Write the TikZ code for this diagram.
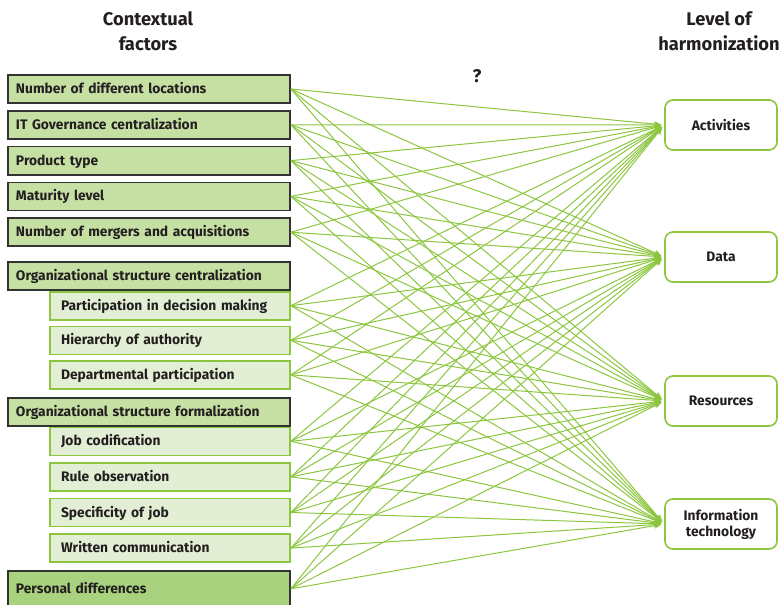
\documentclass[tikz,border=0pt]{standalone}
\usepackage{fontspec}
\setmainfont{Fira Sans}
\usetikzlibrary{positioning,arrows.meta}
\definecolor{boxgreen}{HTML}{C6E0A4}
\definecolor{subgreen}{HTML}{E2EFD4}
\definecolor{persgreen}{HTML}{A8D27D}
\definecolor{linegreen}{HTML}{8CC63F}
\definecolor{darkborder}{HTML}{333333}
\definecolor{txt}{HTML}{231F20}

\begin{document}
\begin{tikzpicture}[x=1pt,y=-1pt,
  every node/.style={font=\bfseries\fontsize{13.8}{16}\selectfont, text=txt},
  factor/.style={draw=darkborder, line width=1.8pt, fill=boxgreen, minimum height=28pt,
    inner xsep=8pt, inner ysep=0pt, text height=11pt, text depth=2pt, text width=266pt, align=left},
  subfactor/.style={draw=linegreen, line width=1.6pt, fill=subgreen, minimum height=28pt,
    inner xsep=11pt, inner ysep=0pt, text height=11pt, text depth=2pt, text width=218pt, align=left},
  target/.style={draw=linegreen, line width=1.6pt, fill=white, rounded corners=8pt,
    minimum width=112pt, minimum height=50pt, align=center},
  heading/.style={font=\bfseries\fontsize{18.3}{25}\selectfont, align=center},
  conn/.style={draw=linegreen, line width=1pt, -{Stealth[length=7pt,width=6pt]}, shorten >=3pt}]
\useasboundingbox (0,0) rectangle (783,604);
\node[heading] (ctx) at (148,31) {Contextual\\factors};
\node[heading] (lvl) at (719,31) {Level of\\harmonization};
\node[heading] (q) at (477,76) {?};
% contextual factors
\node[factor] (f1) at (149,89) {Number of different locations};
\node[factor, below=6pt of f1] (f2) {IT Governance centralization};
\node[factor, below=6pt of f2] (f3) {Product type};
\node[factor, below=6pt of f3] (f4) {Maturity level};
\node[factor, below=6pt of f4] (f5) {Number of mergers and acquisitions};
\node[factor, below=14pt of f5] (f6) {Organizational structure centralization};
\node[subfactor, below left=0pt and 0pt of f6.south east] (f7) {Participation in decision making};
\node[subfactor, below=5pt of f7] (f8) {Hierarchy of authority};
\node[subfactor, below=5pt of f8] (f9) {Departmental participation};
\node[factor, below left=7pt and 0pt of f9.south east] (f10) {Organizational structure formalization};
\node[subfactor, below left=0pt and 0pt of f10.south east] (f11) {Job codification};
\node[subfactor, below=6pt of f11] (f12) {Rule observation};
\node[subfactor, below=6pt of f12] (f13) {Specificity of job};
\node[subfactor, below=6pt of f13] (f14) {Written communication};
\node[factor, fill=persgreen, minimum height=36pt, below left=7pt and 0pt of f14.south east] (f15) {Personal differences};
% harmonization levels
\node[target] (act) at (721,125) {Activities};
\node[target] (dat) at (721,257) {Data};
\node[target] (res) at (721,401) {Resources};
\node[target] (inf) at (721,524) {Information\\technology};
\foreach \f in {f1,f2,f3,f4,f5,f7,f8,f9,f11,f12,f13,f14,f15}
  \foreach \t in {act,dat,res,inf}
    \draw[conn] (\f.east) -- (\t.west);
\end{tikzpicture}
\end{document}
